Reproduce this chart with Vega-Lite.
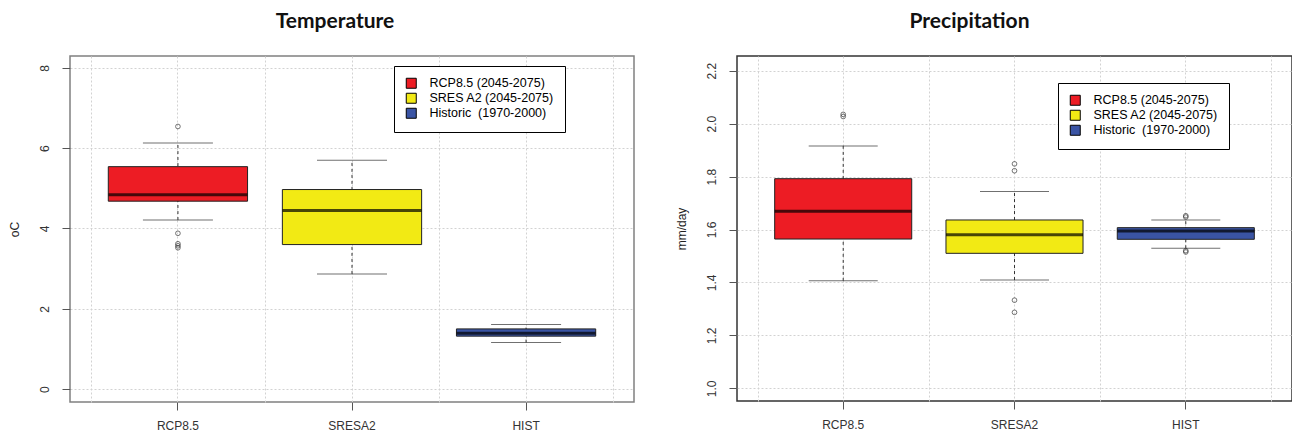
{
  "$schema": "https://vega.github.io/schema/vega-lite/v6.json",
  "padding": {"left": 7, "top": 9, "right": 0, "bottom": 0},
  "background": "white",
  "spacing": 39,
  "config": {
    "font": "Liberation Sans",
    "axis": {"labelFont": "Liberation Sans", "titleFont": "Liberation Sans", "labelFontSize": 12, "titleFontSize": 12, "titleFontWeight": "normal", "labelColor": "#333", "titleColor": "#222", "gridColor": "#d2d2d2", "gridDash": [2, 2], "gridWidth": 1, "domain": false, "tickColor": "#555", "tickSize": 8},
    "title": {"font": "Lato", "fontSize": 21, "fontWeight": "bold", "color": "#111", "anchor": "middle"}
  },
  "datasets": {
    "tempBox": [
      {"cat": "RCP8.5", "series": "RCP8.5 (2045-2075)", "lo": 4.21, "q1": 4.68, "med": 4.84, "q3": 5.54, "hi": 6.13},
      {"cat": "SRESA2", "series": "SRES A2 (2045-2075)", "lo": 2.87, "q1": 3.60, "med": 4.45, "q3": 4.97, "hi": 5.70},
      {"cat": "HIST", "series": "Historic \u00a0(1970-2000)", "lo": 1.16, "q1": 1.32, "med": 1.39, "q3": 1.50, "hi": 1.61}
    ],
    "tempOut": [
      {"cat": "RCP8.5", "v": 6.54},
      {"cat": "RCP8.5", "v": 3.88},
      {"cat": "RCP8.5", "v": 3.62},
      {"cat": "RCP8.5", "v": 3.57},
      {"cat": "RCP8.5", "v": 3.52}
    ],
    "precBox": [
      {"cat": "RCP8.5", "series": "RCP8.5 (2045-2075)", "lo": 1.406, "q1": 1.564, "med": 1.669, "q3": 1.792, "hi": 1.916},
      {"cat": "SRESA2", "series": "SRES A2 (2045-2075)", "lo": 1.409, "q1": 1.510, "med": 1.580, "q3": 1.636, "hi": 1.744},
      {"cat": "HIST", "series": "Historic \u00a0(1970-2000)", "lo": 1.529, "q1": 1.563, "med": 1.594, "q3": 1.607, "hi": 1.636}
    ],
    "precOut": [
      {"cat": "RCP8.5", "v": 2.035},
      {"cat": "RCP8.5", "v": 2.027},
      {"cat": "SRESA2", "v": 1.848},
      {"cat": "SRESA2", "v": 1.822},
      {"cat": "SRESA2", "v": 1.333},
      {"cat": "SRESA2", "v": 1.287},
      {"cat": "HIST", "v": 1.652},
      {"cat": "HIST", "v": 1.647},
      {"cat": "HIST", "v": 1.520},
      {"cat": "HIST", "v": 1.515}
    ]
  },
  "resolve": {"scale": {"color": "independent", "x": "independent", "y": "independent"}, "legend": {"color": "independent"}},
  "hconcat": [
    {
      "width": 564,
      "height": 346,
      "title": {"text": "Temperature", "dx": -17, "offset": 24.5},
      "view": {"stroke": "#808080", "strokeWidth": 1.5},
      "resolve": {"axis": {"x": "independent"}},
      "layer": [
        {
          "data": {"name": "tempBox"},
          "mark": {"type": "rule", "strokeDash": [3, 3], "color": "#333", "strokeWidth": 1},
          "encoding": {
            "x": {"field": "cat", "type": "nominal", "sort": ["RCP8.5", "SRESA2", "HIST"], "scale": {"domain": ["RCP8.5", "SRESA2", "HIST"], "paddingInner": 0, "paddingOuter": 0.12}, "axis": {"orient": "bottom", "title": null, "labelAngle": 0, "labelPadding": 10, "grid": true}},
            "y": {"field": "lo", "type": "quantitative", "scale": {"domain": [-0.32, 8.295], "nice": false, "zero": false}, "axis": {"values": [0, 2, 4, 6, 8], "title": "oC", "labelAngle": -90, "labelPadding": 11, "titlePadding": 17, "grid": true}},
            "y2": {"field": "hi"}
          }
        },
        {
          "data": {"name": "tempBox"},
          "mark": {"type": "bar", "width": {"band": 0.8}, "stroke": "#222", "strokeWidth": 1},
          "encoding": {
            "x": {"field": "cat", "type": "nominal", "axis": null},
            "y": {"field": "q1", "type": "quantitative"},
            "y2": {"field": "q3"},
            "color": {"field": "series", "type": "nominal", "scale": {"domain": ["RCP8.5 (2045-2075)", "SRES A2 (2045-2075)", "Historic \u00a0(1970-2000)"], "range": ["#ED1C24", "#F2EA14", "#3A54A4"]}, "legend": {"orient": "none", "legendX": 324, "legendY": 10, "title": null, "symbolType": "square", "symbolSize": 100, "symbolStrokeColor": "#000", "symbolStrokeWidth": 1, "symbolOpacity": 1, "labelFont": "Liberation Sans", "labelFontSize": 12.5, "labelColor": "#000", "labelOffset": 12, "strokeColor": "#000", "fillColor": "#fff", "padding": 11, "rowPadding": 0}}
          }
        },
        {
          "data": {"name": "tempBox"},
          "mark": {"type": "tick", "color": "#000", "thickness": 3, "size": 139},
          "encoding": {"x": {"field": "cat", "type": "nominal", "axis": null}, "y": {"field": "med", "type": "quantitative"}}
        },
        {
          "data": {"name": "tempBox"},
          "mark": {"type": "tick", "color": "#333", "thickness": 1, "size": 70},
          "encoding": {"x": {"field": "cat", "type": "nominal", "axis": null}, "y": {"field": "lo", "type": "quantitative"}}
        },
        {
          "data": {"name": "tempBox"},
          "mark": {"type": "tick", "color": "#333", "thickness": 1, "size": 70},
          "encoding": {"x": {"field": "cat", "type": "nominal", "axis": null}, "y": {"field": "hi", "type": "quantitative"}}
        },
        {
          "data": {"name": "tempOut"},
          "mark": {"type": "point", "shape": "circle", "filled": false, "size": 22, "color": "#222", "strokeWidth": 0.9},
          "encoding": {"x": {"field": "cat", "type": "nominal", "axis": {"orient": "top", "tickBand": "extent", "grid": true, "labels": false, "ticks": false, "domain": false, "title": null}}, "y": {"field": "v", "type": "quantitative"}}
        }
      ]
    },
    {
      "width": 555,
      "height": 345,
      "title": {"text": "Precipitation", "dx": -45, "offset": 24.5},
      "view": {"stroke": "#333", "strokeWidth": 1.5},
      "resolve": {"axis": {"x": "independent"}},
      "layer": [
        {
          "data": {"name": "precBox"},
          "mark": {"type": "rule", "strokeDash": [3, 3], "color": "#333", "strokeWidth": 1},
          "encoding": {
            "x": {"field": "cat", "type": "nominal", "sort": ["RCP8.5", "SRESA2", "HIST"], "scale": {"domain": ["RCP8.5", "SRESA2", "HIST"], "paddingInner": 0, "paddingOuter": 0.12}, "axis": {"orient": "bottom", "title": null, "labelAngle": 0, "labelPadding": 10, "grid": true}},
            "y": {"field": "lo", "type": "quantitative", "scale": {"domain": [0.952, 2.2556], "nice": false, "zero": false}, "axis": {"values": [1.0, 1.2, 1.4, 1.6, 1.8, 2.0, 2.2], "format": ".1f", "title": "mm/day", "labelAngle": -90, "labelPadding": 11, "titlePadding": 17, "grid": true}},
            "y2": {"field": "hi"}
          }
        },
        {
          "data": {"name": "precBox"},
          "mark": {"type": "bar", "width": {"band": 0.8}, "stroke": "#222", "strokeWidth": 1},
          "encoding": {
            "x": {"field": "cat", "type": "nominal", "axis": null},
            "y": {"field": "q1", "type": "quantitative"},
            "y2": {"field": "q3"},
            "color": {"field": "series", "type": "nominal", "scale": {"domain": ["RCP8.5 (2045-2075)", "SRES A2 (2045-2075)", "Historic \u00a0(1970-2000)"], "range": ["#ED1C24", "#F2EA14", "#3A54A4"]}, "legend": {"orient": "none", "legendX": 321, "legendY": 27, "title": null, "symbolType": "square", "symbolSize": 100, "symbolStrokeColor": "#000", "symbolStrokeWidth": 1, "symbolOpacity": 1, "labelFont": "Liberation Sans", "labelFontSize": 12.5, "labelColor": "#000", "labelOffset": 12, "strokeColor": "#000", "fillColor": "#fff", "padding": 11, "rowPadding": 0}}
          }
        },
        {
          "data": {"name": "precBox"},
          "mark": {"type": "tick", "color": "#000", "thickness": 3, "size": 137},
          "encoding": {"x": {"field": "cat", "type": "nominal", "axis": null}, "y": {"field": "med", "type": "quantitative"}}
        },
        {
          "data": {"name": "precBox"},
          "mark": {"type": "tick", "color": "#333", "thickness": 1, "size": 69},
          "encoding": {"x": {"field": "cat", "type": "nominal", "axis": null}, "y": {"field": "lo", "type": "quantitative"}}
        },
        {
          "data": {"name": "precBox"},
          "mark": {"type": "tick", "color": "#333", "thickness": 1, "size": 69},
          "encoding": {"x": {"field": "cat", "type": "nominal", "axis": null}, "y": {"field": "hi", "type": "quantitative"}}
        },
        {
          "data": {"name": "precOut"},
          "mark": {"type": "point", "shape": "circle", "filled": false, "size": 22, "color": "#222", "strokeWidth": 0.9},
          "encoding": {"x": {"field": "cat", "type": "nominal", "axis": {"orient": "top", "tickBand": "extent", "grid": true, "labels": false, "ticks": false, "domain": false, "title": null}}, "y": {"field": "v", "type": "quantitative"}}
        }
      ]
    }
  ]
}
